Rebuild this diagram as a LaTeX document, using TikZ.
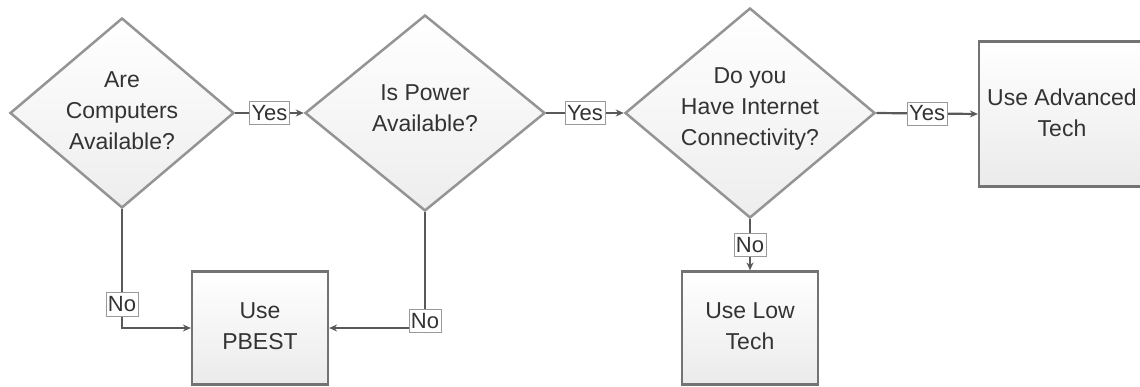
\documentclass[tikz,border=0pt]{standalone}
\usepackage{fontspec}
\setmainfont{Liberation Sans}
\usetikzlibrary{shapes.geometric,arrows.meta}
\begin{document}
\begin{tikzpicture}[x=1pt,y=-1pt,
  dia/.style={shape=diamond, draw=black!42, line width=2.5pt, top color=white, bottom color=black!7, inner sep=0pt},
  box/.style={rectangle, draw=black!55, line width=2.2pt, top color=white, bottom color=black!8, inner sep=0pt},
  txt/.style={font=\fontsize{23}{31}\selectfont, text=black!80, align=center, inner sep=0pt},
  lab/.style={draw=black!40, line width=0.6pt, fill=white, inner xsep=2pt, inner ysep=4pt, font=\fontsize{22}{26}\selectfont, text=black!80},
  conn/.style={draw=black!65, line width=2.2pt, -{Stealth[length=8pt,width=7pt]}}]
\useasboundingbox (0,0) rectangle (1140,387);
% shapes
\node[dia, minimum width=224pt, minimum height=190pt] (d1) at (122,113) {};
\node[dia, minimum width=240pt, minimum height=196pt] (d2) at (425,113) {};
\node[dia, minimum width=250pt, minimum height=210pt] (d3) at (750,113) {};
\node[box, minimum width=166pt, minimum height=145pt] (adv) at (1062,114) {};
\node[box, minimum width=136pt, minimum height=113pt] (pb) at (260,328) {};
\node[box, minimum width=136pt, minimum height=113pt] (lt) at (750,328) {};
% texts
\node[txt] (d1t) at (122,111) {Are\\Computers\\Available?};
\node[txt] (d2t) at (425,108) {Is Power\\Available?};
\node[txt] (d3t) at (750,109) {Do you\\Have Internet\\Connectivity?};
\node[txt] (advt) at (1062,113) {Use Advanced\\Tech};
\node[txt] (pbt) at (260,326) {Use\\PBEST};
\node[txt] (ltt) at (750,326) {Use Low\\Tech};
% connectors
\draw[conn] (d1.east) -- node[lab] (y1) {Yes} (d2.west);
\draw[conn] (d2.east) -- node[lab] (y2) {Yes} (d3.west);
\draw[conn] (d3.east) -- node[lab] (y3) {Yes} (adv.west);
\draw[conn] (d1.south) |- node[lab, pos=0.4] (n1) {No} (pb.west);
\draw[conn] (d2.south) |- node[lab, pos=0.47] (n2) {No} (pb.east);
\draw[conn] (d3.south) -- node[lab] (n3) {No} (lt.north);
\end{tikzpicture}
\end{document}
